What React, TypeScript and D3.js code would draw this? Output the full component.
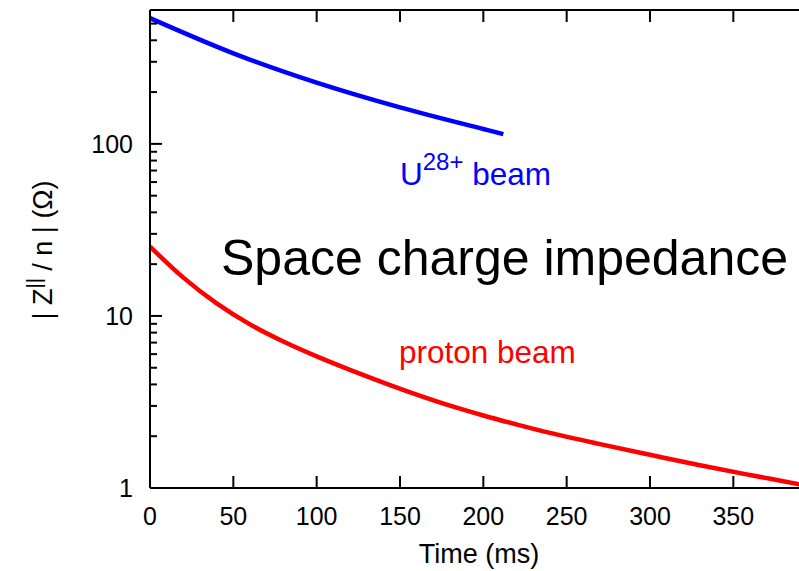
import React from "react";
import * as d3 from "d3";

// Proton beam: space charge impedance along the ramp
const protonTime = [0, 20, 40, 60, 80, 100, 120, 140, 160, 180, 200, 220, 240, 270, 300, 330, 360, 390];
const protonZ = [25.3, 16.7, 11.83, 8.93, 7.1, 5.82, 4.86, 4.1, 3.49, 3.01, 2.64, 2.34, 2.09, 1.8, 1.56, 1.355, 1.19, 1.05];

// U28+ beam
const uTime = [0, 50, 100, 150, 200, 212];
const uZ = [538, 336, 227, 163, 122, 114];

const xTicks = [0, 50, 100, 150, 200, 250, 300, 350];
const yMajorTicks = [1, 10, 100];
const yMinorTicks = [2, 3, 4, 5, 6, 7, 8, 9, 20, 30, 40, 50, 60, 70, 80, 90, 200, 300, 400, 500];

const W = 799;
const H = 571;
const left = 150;
const right = 800;
const top = 10;
const bottom = 488;

const font = "'Liberation Sans', Arial, Helvetica, sans-serif";

export default function App() {
  const x = d3.scaleLinear().domain([0, 390]).range([left, right]);
  const y = d3.scaleLog().domain([1, 600]).range([bottom, top]);

  const line = d3
    .line<[number, number]>()
    .x((d) => x(d[0]))
    .y((d) => y(d[1]))
    .curve(d3.curveCatmullRom.alpha(0.5));

  const protonPts = protonTime.map((t, i) => [t, protonZ[i]] as [number, number]);
  const uPts = uTime.map((t, i) => [t, uZ[i]] as [number, number]);

  return (
    <svg
      width={W}
      height={H}
      style={{ position: "absolute", left: 0, top: 0, background: "#fff" }}
      fontFamily={font}
    >
      <rect x={0} y={0} width={W} height={H} fill="#fff" />

      {/* curves */}
      <path d={line(uPts) || ""} fill="none" stroke="#0000ff" strokeWidth={4.5} />
      <path d={line(protonPts) || ""} fill="none" stroke="#ff0000" strokeWidth={4.5} />

      {/* frame */}
      <g stroke="#000" strokeWidth={2} fill="none">
        <line x1={left} y1={top} x2={W + 5} y2={top} />
        <line x1={left} y1={top} x2={left} y2={bottom} />
        <line x1={left} y1={bottom} x2={W + 5} y2={bottom} />
        {xTicks.filter((t) => t > 0).map((t) => (
          <g key={t}>
            <line x1={x(t)} y1={bottom} x2={x(t)} y2={bottom - 12} />
            <line x1={x(t)} y1={top} x2={x(t)} y2={top + 12} />
          </g>
        ))}
        {yMajorTicks.map((v) => (
          <line key={v} x1={left} y1={y(v)} x2={left + 12} y2={y(v)} />
        ))}
        {yMinorTicks.map((v) => (
          <line key={v} x1={left} y1={y(v)} x2={left + 7} y2={y(v)} />
        ))}
      </g>

      {/* tick labels */}
      <g fontSize={25} fill="#000">
        {xTicks.map((t) => (
          <text key={t} x={x(t)} y={525} textAnchor="middle">
            {t}
          </text>
        ))}
        {yMajorTicks.map((v) => (
          <text key={v} x={133} y={y(v) + 9} textAnchor="end">
            {v}
          </text>
        ))}
      </g>

      {/* axis titles */}
      <text x={479} y={563} fontSize={27} textAnchor="middle" fill="#000">
        Time (ms)
      </text>
      <text
        transform="translate(52,250) rotate(-90)"
        fontSize={27}
        textAnchor="middle"
        fill="#000"
      >
        | Z
        <tspan fontSize={20} dy={-11}>||</tspan>
        <tspan dy={11}> / n | (Ω)</tspan>
      </text>

      {/* annotations */}
      <text x={221} y={275} fontSize={50} fill="#000">
        Space charge impedance
      </text>
      <text x={400} y={185} fontSize={31.5} fill="#0000ff">
        U<tspan fontSize={24} dy={-15}>28+</tspan>
        <tspan dy={15}> beam</tspan>
      </text>
      <text x={399} y={363} fontSize={31.5} fill="#ff0000">
        proton beam
      </text>
    </svg>
  );
}
